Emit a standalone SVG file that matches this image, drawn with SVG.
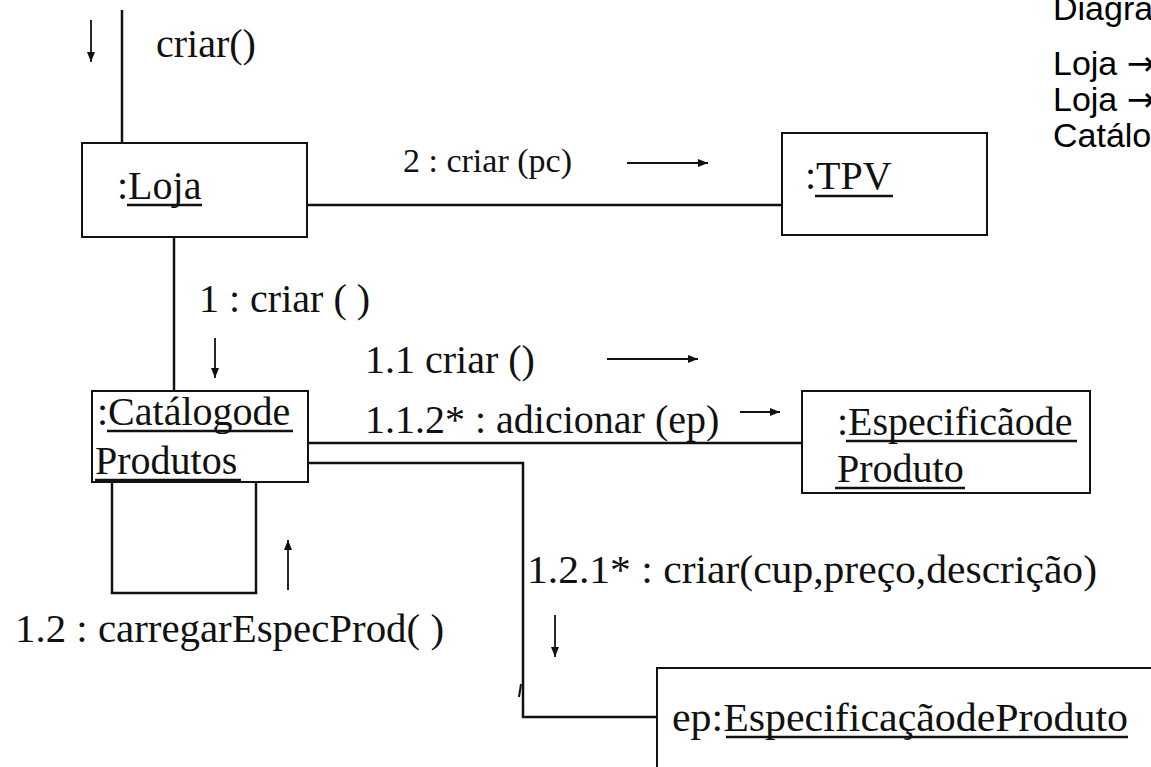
<svg xmlns="http://www.w3.org/2000/svg" width="1151" height="767" viewBox="0 0 1151 767">
  <style>
    .box{fill:#fff;stroke:#111;stroke-width:2}
    .ln{fill:none;stroke:#111;stroke-width:2.5}
    .msg{stroke:#111;stroke-width:1.8;marker-end:url(#ah)}
    .lbl{font-family:"Liberation Serif","Times New Roman",serif;font-size:40px;fill:#111}
    .ul{stroke:#111;stroke-width:2.5}
    .side{font-family:"Liberation Sans",Arial,sans-serif;font-size:34px;fill:#000}
    .sym{font-family:"DejaVu Sans",sans-serif}
  </style>
  <defs>
    <marker id="ah" viewBox="0 0 10 8" refX="10" refY="4" markerWidth="10" markerHeight="8" markerUnits="userSpaceOnUse" orient="auto">
      <path d="M0,0 L10,4 L0,8 z" fill="#111"/>
    </marker>
  </defs>
  <rect width="1151" height="767" fill="#fff"/>

  <!-- links between objects -->
  <g id="connectors">
    <path class="ln" d="M122,10 V143"/>
    <path class="ln" d="M307,205 H782"/>
    <path class="ln" d="M174,237 V391"/>
    <path class="ln" d="M308,443 H802"/>
    <path class="ln" d="M308,463 H523 V717 H657"/>
    <path class="ln" d="M112,482 V593 H256 V482"/>
    <path d="M521,684 L519,697" stroke="#111" stroke-width="2"/>
  </g>

  <!-- message direction arrows -->
  <g id="messages">
    <line class="msg" x1="91" y1="20" x2="91" y2="62"/>
    <line class="msg" x1="627" y1="163" x2="708" y2="163"/>
    <line class="msg" x1="215" y1="338" x2="215" y2="378"/>
    <line class="msg" x1="607" y1="359" x2="698" y2="359"/>
    <line class="msg" x1="740" y1="412" x2="780" y2="412"/>
    <line class="msg" x1="288" y1="590" x2="288" y2="540"/>
    <line class="msg" x1="555" y1="615" x2="555" y2="657"/>
  </g>

  <!-- message labels -->
  <g id="labels">
    <text class="lbl" x="156" y="57">criar()</text>
    <text class="lbl" x="403" y="172" style="font-size:34px">2 : criar (pc)</text>
    <text class="lbl" x="199" y="312">1 : criar ( )</text>
    <text class="lbl" x="365" y="373">1.1 criar ()</text>
    <text class="lbl" x="365" y="433">1.1.2* : adicionar (ep)</text>
    <text class="lbl" x="15" y="642" textLength="429" lengthAdjust="spacingAndGlyphs">1.2 : carregarEspecProd( )</text>
    <text class="lbl" x="527" y="583" textLength="570" lengthAdjust="spacingAndGlyphs">1.2.1* : criar(cup,preço,descrição)</text>
  </g>

  <g id="loja">
    <rect class="box" x="82" y="143" width="225" height="94"/>
    <text class="lbl" x="117" y="199">:Loja</text>
    <line class="ul" x1="127" y1="205" x2="202" y2="205"/>
  </g>

  <g id="tpv">
    <rect class="box" x="782" y="133" width="205" height="102"/>
    <text class="lbl" x="805" y="189">:TPV</text>
    <line class="ul" x1="815" y1="196" x2="893" y2="196"/>
  </g>

  <g id="catalogo">
    <rect class="box" x="92" y="391" width="216" height="91"/>
    <text class="lbl" x="97" y="425">:Catálogode</text>
    <line class="ul" x1="107" y1="431" x2="293" y2="431"/>
    <text class="lbl" x="95" y="474">Produtos</text>
    <line class="ul" x1="95" y1="480" x2="241" y2="480"/>
  </g>

  <g id="especificacao">
    <rect class="box" x="802" y="391" width="288" height="102"/>
    <text class="lbl" x="837" y="435">:Especificãode</text>
    <line class="ul" x1="846" y1="441" x2="1077" y2="441"/>
    <text class="lbl" x="837" y="482">Produto</text>
    <line class="ul" x1="835" y1="488" x2="965" y2="488"/>
  </g>

  <g id="ep">
    <rect class="box" x="657" y="668" width="520" height="120"/>
    <text class="lbl" x="672" y="731" textLength="456" lengthAdjust="spacingAndGlyphs">ep:EspecificaçãodeProduto</text>
    <line class="ul" x1="726" y1="737" x2="1128" y2="737"/>
  </g>

  <!-- side notes running off the right edge -->
  <g id="notes">
    <text class="side" x="1053" y="20">Diagra</text>
    <text class="side" x="1053" y="75">Loja <tspan class="sym">→</tspan></text>
    <text class="side" x="1053" y="111">Loja <tspan class="sym">→</tspan></text>
    <text class="side" x="1053" y="147">Catálo</text>
  </g>
</svg>
